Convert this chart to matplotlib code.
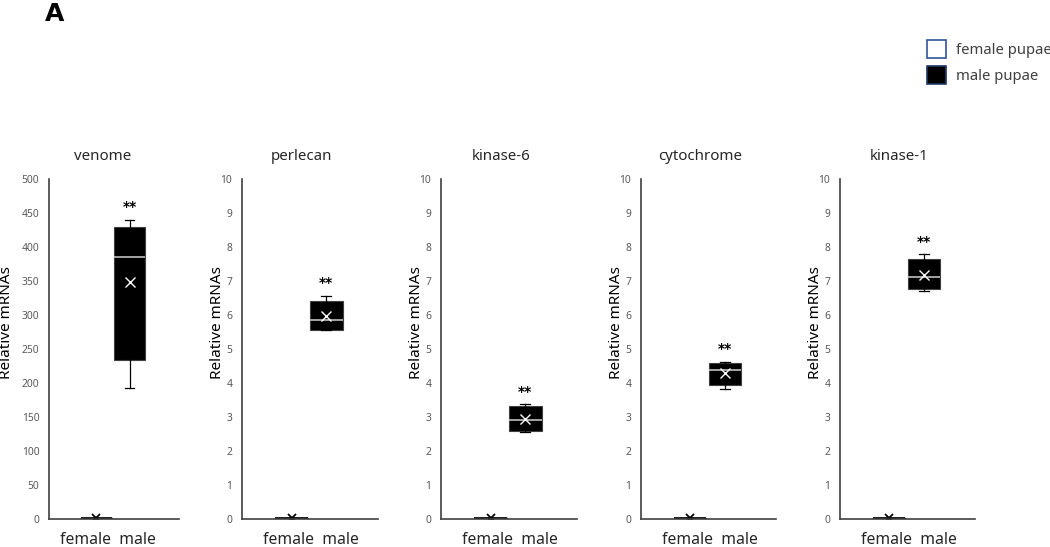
import matplotlib.pyplot as plt
from matplotlib.patches import Patch

plt.rcParams['font.family'] = ['Noto Sans', 'DejaVu Sans']

genes = ["venome", "perlecan", "kinase-6", "cytochrome", "kinase-1"]
y_max = [500, 10, 10, 10, 10]
y_step = [50, 1, 1, 1, 1]

# male pupae box stats
male_whislo = [192, 5.55, 2.57, 3.81, 6.71]
male_q1 = [234, 5.56, 2.58, 3.93, 6.76]
male_med = [385, 5.85, 2.91, 4.39, 7.11]
male_q3 = [430, 6.42, 3.32, 4.60, 7.64]
male_whishi = [440, 6.56, 3.38, 4.63, 7.79]
male_mean = [348, 5.98, 2.93, 4.29, 7.18]

# female pupae sit at the floor of every panel
female_val = [1.5, 0.03, 0.03, 0.03, 0.03]

stars = "**"

# panel geometry in pixels (figure is 1050 x 547)
W, H = 1050, 547
lefts = [49, 242, 441, 641, 840]
rights = [179, 378, 577, 776, 975]
top, bottom = 179, 519

fig = plt.figure(figsize=(10.5, 5.47), dpi=100)

for i, g in enumerate(genes):
    l, r = lefts[i], rights[i]
    ax = fig.add_axes([l / W, 1 - bottom / H, (r - l) / W, (bottom - top) / H])

    f = female_val[i]
    fem = dict(med=f, q1=0, q3=f, whislo=0, whishi=f, mean=f, fliers=[])
    mal = dict(med=male_med[i], q1=male_q1[i], q3=male_q3[i],
               whislo=male_whislo[i], whishi=male_whishi[i],
               mean=male_mean[i], fliers=[])

    ax.bxp([fem], positions=[0.365], widths=0.24, capwidths=0.0,
           showmeans=True, patch_artist=True,
           boxprops=dict(facecolor='white', edgecolor='black', linewidth=1),
           medianprops=dict(color='black', linewidth=1.2),
           whiskerprops=dict(color='black', linewidth=0.8),
           capprops=dict(color='black', linewidth=0),
           meanprops=dict(marker='x', markeredgecolor='black', markersize=6,
                          markeredgewidth=1.3))
    ax.bxp([mal], positions=[0.62], widths=0.24, capwidths=0.075,
           showmeans=True, patch_artist=True,
           boxprops=dict(facecolor='black', edgecolor='#404040', linewidth=0.8),
           medianprops=dict(color='#bfbfbf', linewidth=1.2),
           whiskerprops=dict(color='black', linewidth=0.9),
           capprops=dict(color='black', linewidth=0.9),
           meanprops=dict(marker='x', markeredgecolor='white', markersize=7,
                          markeredgewidth=1.0))

    ax.annotate(stars, (0.62, male_whishi[i]), xytext=(0, 9),
                textcoords='offset points', ha='center', va='center',
                fontsize=10, fontweight='bold', color='black',
                family='DejaVu Sans')

    ax.set_xlim(0, 1)
    ax.set_ylim(0, y_max[i])
    ax.set_yticks([k * y_step[i] for k in range(11)])
    ax.set_xticks([])
    ax.tick_params(axis='y', length=0, labelsize=7.4, labelcolor='#595959', pad=7)
    for s in ['top', 'right']:
        ax.spines[s].set_visible(False)
    for s in ['left', 'bottom']:
        ax.spines[s].set_color('#404040')
        ax.spines[s].set_linewidth(1.2)

    tx = 0.41 if i == 0 else 0.44
    ax.text(tx, 1.065, g, transform=ax.transAxes, ha='center', va='center',
            fontsize=10.8, color='#262626')
    lx = 0.45 if i == 0 else 0.51
    ax.text(lx, -0.062, "female  male", transform=ax.transAxes, ha='center',
            va='center', fontsize=11.3, color='#262626')
    ax.set_ylabel("Relative mRNAs", fontsize=11, color='black')
    ax.yaxis.set_label_coords(-0.27 if i == 0 else -0.125, 0.577)

fig.text(45 / W, 1 - 21 / H, "A", fontsize=18, fontweight='bold',
         family='DejaVu Sans', ha='left', va='baseline')

handles = [Patch(facecolor='white', edgecolor='#2f5597', linewidth=1.2),
           Patch(facecolor='black', edgecolor='#1f3864', linewidth=1.2)]
fig.legend(handles, ["female pupae", "male pupae"], loc='upper left',
           bbox_to_anchor=(927 / W, 1 - 40 / H), frameon=False,
           fontsize=10.7, handlelength=1.25, handleheight=1.45,
           labelspacing=0.55, handletextpad=0.7, borderpad=0,
           borderaxespad=0, labelcolor='#404040')

fig.savefig("out.png", dpi=100)
